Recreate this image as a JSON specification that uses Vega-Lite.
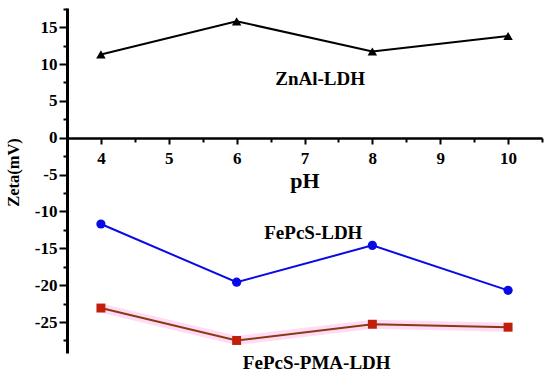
{
  "$schema": "https://vega.github.io/schema/vega-lite/v6.json",
  "width": 475,
  "height": 345,
  "autosize": "none",
  "padding": {"left": 67, "top": 8, "right": 8, "bottom": 25},
  "background": "white",
  "config": {
    "view": {"stroke": null},
    "font": "Liberation Serif",
    "axis": {"labelFont": "Liberation Serif", "titleFont": "Liberation Serif", "labelFontWeight": "bold", "titleFontWeight": "bold", "labelColor": "black", "titleColor": "black", "domainColor": "black", "tickColor": "black", "grid": false}
  },
  "datasets": {
    "pts": [
      {"pH": 4, "zeta": 11.3, "series": "ZnAl-LDH"},
      {"pH": 6, "zeta": 15.8, "series": "ZnAl-LDH"},
      {"pH": 8, "zeta": 11.7, "series": "ZnAl-LDH"},
      {"pH": 10, "zeta": 13.8, "series": "ZnAl-LDH"},
      {"pH": 4, "zeta": -11.7, "series": "FePcS-LDH"},
      {"pH": 6, "zeta": -19.6, "series": "FePcS-LDH"},
      {"pH": 8, "zeta": -14.6, "series": "FePcS-LDH"},
      {"pH": 10, "zeta": -20.7, "series": "FePcS-LDH"},
      {"pH": 4, "zeta": -23.1, "series": "FePcS-PMA-LDH"},
      {"pH": 6, "zeta": -27.5, "series": "FePcS-PMA-LDH"},
      {"pH": 8, "zeta": -25.3, "series": "FePcS-PMA-LDH"},
      {"pH": 10, "zeta": -25.7, "series": "FePcS-PMA-LDH"}
    ],
    "labels": [
      {"pH": 7.23, "zeta": 7.96, "label": "ZnAl-LDH"},
      {"pH": 7.13, "zeta": -12.9, "label": "FePcS-LDH"},
      {"pH": 7.18, "zeta": -30.55, "label": "FePcS-PMA-LDH"}
    ]
  },
  "encoding": {
    "x": {"field": "pH", "type": "quantitative", "scale": {"domain": [3.5, 10.5], "nice": false, "zero": false},
      "axis": {"orient": "bottom", "offset": -215,
        "values": [3.5, 4, 4.5, 5, 5.5, 6, 6.5, 7, 7.5, 8, 8.5, 9, 9.5, 10, 10.5],
        "labelExpr": "datum.value % 1 === 0 ? '' + datum.value : ''",
        "tickSize": {"condition": {"test": "datum.value % 1 !== 0", "value": 4}, "value": 6},
        "labelFont": "Liberation Serif", "labelFontWeight": "bold",
        "title": "pH", "titleFontSize": 22, "titlePadding": 4, "labelFontSize": 17, "tickWidth": 2, "domainWidth": 2.5, "labelPadding": 6, "labelFlush": false, "labelOverlap": false}},
    "y": {"field": "zeta", "type": "quantitative", "scale": {"domain": [-29.2, 17.6], "nice": false, "zero": false},
      "axis": {"orient": "left",
        "values": [-27.5, -25, -22.5, -20, -17.5, -15, -12.5, -10, -7.5, -5, -2.5, 0, 2.5, 5, 7.5, 10, 12.5, 15, 17.5],
        "labelExpr": "datum.value % 5 === 0 ? '' + datum.value : ''",
        "tickSize": {"condition": {"test": "datum.value % 5 !== 0", "value": 4}, "value": 8},
        "labelFont": "Liberation Serif", "labelFontWeight": "bold",
        "title": "Zeta(mV)", "titleFontSize": 16.5, "titleX": -54, "titleY": 164, "titleAngle": -90, "titleBaseline": "middle", "labelFontSize": 17, "tickWidth": 2, "domainWidth": 3, "labelPadding": 2, "labelFlush": false, "labelOverlap": false}}
  },
  "layer": [
    {
      "data": {"name": "pts"},
      "transform": [{"filter": "datum.series === 'FePcS-PMA-LDH'"}],
      "mark": {"type": "line", "color": "#ffd2f4", "strokeWidth": 9, "opacity": 0.8}
    },
    {
      "data": {"name": "pts"},
      "mark": {"type": "line", "strokeWidth": 2},
      "encoding": {
        "color": {"field": "series", "type": "nominal", "scale": {"domain": ["ZnAl-LDH", "FePcS-LDH", "FePcS-PMA-LDH"], "range": ["#000000", "#0a0ae6", "#8a3a12"]}, "legend": null}
      }
    },
    {
      "data": {"name": "pts"},
      "mark": {"type": "point", "filled": true, "opacity": 1},
      "encoding": {
        "shape": {"field": "series", "type": "nominal", "scale": {"domain": ["ZnAl-LDH", "FePcS-LDH", "FePcS-PMA-LDH"], "range": ["triangle-up", "circle", "square"]}, "legend": null},
        "fill": {"field": "series", "type": "nominal", "scale": {"domain": ["ZnAl-LDH", "FePcS-LDH", "FePcS-PMA-LDH"], "range": ["#000000", "#0a0ae6", "#c21e0c"]}, "legend": null},
        "size": {"field": "series", "type": "nominal", "scale": {"domain": ["ZnAl-LDH", "FePcS-LDH", "FePcS-PMA-LDH"], "range": [90, 80, 70]}, "legend": null}
      }
    },
    {
      "data": {"name": "labels"},
      "mark": {"type": "text", "font": "Liberation Serif", "fontWeight": "bold", "fontSize": 19, "baseline": "middle", "align": "center", "clip": false, "color": "black"},
      "encoding": {
        "text": {"field": "label"}
      }
    }
  ]
}
